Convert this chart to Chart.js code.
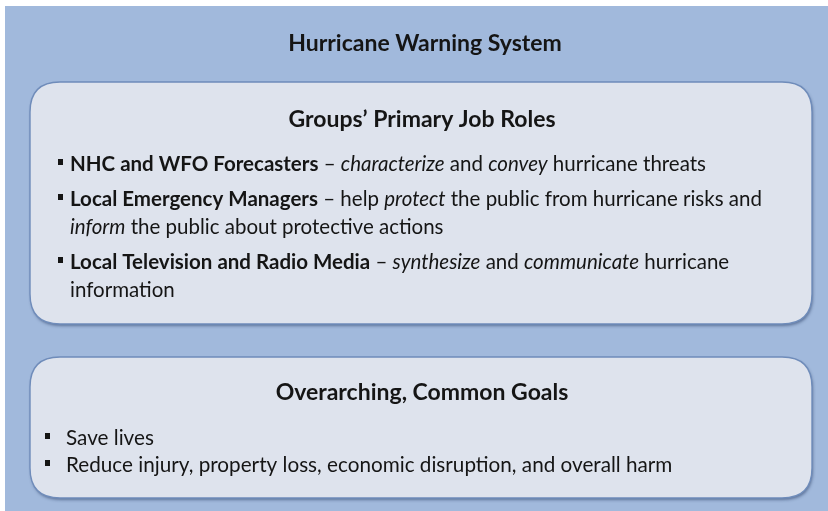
<!DOCTYPE html>
<html>
<head>
<meta charset="utf-8">
<script src="https://cdn.jsdelivr.net/npm/chart.js@4.4.1/dist/chart.umd.min.js"></script>
<style>
  html, body { margin: 0; padding: 0; background: #fff; }
  #wrap { width: 828px; height: 511px; }
</style>
</head>
<body>
<div id="wrap"><canvas id="diagram"></canvas></div>
<script>
const mainTitle = 'Hurricane Warning System';
const boxTitles = ['Groups\u2019 Primary Job Roles', 'Overarching, Common Goals'];

// each line is a list of [text, style] parts; b = bold, i = italic, n = normal
const roleLines = [
  { bullet: true, parts: [['NHC and WFO Forecasters', 'b'], [' \u2013 ', 'n'], ['characterize', 'i'], [' and ', 'n'], ['convey', 'i'], [' hurricane threats', 'n']] },
  { bullet: true, parts: [['Local Emergency Managers', 'b'], [' \u2013 help ', 'n'], ['protect', 'i'], [' the public from hurricane risks and', 'n']] },
  { bullet: false, parts: [['inform', 'i'], [' the public about protective actions', 'n']] },
  { bullet: true, parts: [['Local Television and Radio Media', 'b'], [' \u2013 ', 'n'], ['synthesize', 'i'], [' and ', 'n'], ['communicate', 'i'], [' hurricane', 'n']] },
  { bullet: false, parts: [['information', 'n']] }
];
const goalLines = [
  { bullet: true, parts: [['Save lives', 'n']] },
  { bullet: true, parts: [['Reduce injury, property loss, economic disruption, and overall harm', 'n']] }
];

const FONT = 'Lato, "Open Sans", sans-serif';
const colors = {
  back: '#a1b9dc',
  box: '#dee3ed',
  border: '#6f8cba',
  text: '#151515'
};

// layout of the panels (px in the 828x511 canvas)
const panels = [
  { x: 30, y: 82, w: 782, h: 242, r: 30, titleY: 120, lines: roleLines, lineY: [171, 206, 234, 269, 297], textX: 70, bulletX: 58, size: 20.5 },
  { x: 30, y: 357, w: 782, h: 141, r: 30, titleY: 393, lines: goalLines, lineY: [445, 472], textX: 66, bulletX: 45, size: 20.7 }
];

function roundRect(ctx, x, y, w, h, r) {
  ctx.beginPath();
  ctx.moveTo(x + r, y);
  ctx.lineTo(x + w - r, y);
  ctx.quadraticCurveTo(x + w, y, x + w, y + r);
  ctx.lineTo(x + w, y + h - r);
  ctx.quadraticCurveTo(x + w, y + h, x + w - r, y + h);
  ctx.lineTo(x + r, y + h);
  ctx.quadraticCurveTo(x, y + h, x, y + h - r);
  ctx.lineTo(x, y + r);
  ctx.quadraticCurveTo(x, y, x + r, y);
  ctx.closePath();
}

function fontFor(style, size) {
  if (style === 'b') return 'bold ' + size + 'px ' + FONT;
  if (style === 'i') return 'italic ' + size + 'px ' + FONT;
  return size + 'px ' + FONT;
}

const diagramPlugin = {
  id: 'diagram',
  beforeDraw(chart) {
    const ctx = chart.ctx;
    ctx.save();
    ctx.fillStyle = '#fff';
    ctx.fillRect(0, 0, chart.width, chart.height);
    ctx.fillStyle = colors.back;
    ctx.fillRect(5, 6, chart.width - 5, chart.height - 6);
    panels.forEach(p => {
      ctx.save();
      ctx.shadowColor = 'rgba(30,50,90,0.5)';
      ctx.shadowBlur = 3;
      ctx.shadowOffsetX = 1;
      ctx.shadowOffsetY = 2;
      roundRect(ctx, p.x, p.y, p.w, p.h, p.r);
      ctx.fillStyle = colors.box;
      ctx.fill();
      ctx.restore();
      roundRect(ctx, p.x, p.y, p.w, p.h, p.r);
      ctx.lineWidth = 1.4;
      ctx.strokeStyle = colors.border;
      ctx.stroke();
    });
    ctx.restore();
  },
  afterDraw(chart) {
    const ctx = chart.ctx;
    ctx.save();
    ctx.fillStyle = colors.text;
    panels.forEach((p, i) => {
      ctx.textBaseline = 'middle';
      ctx.font = 'bold 23px ' + FONT;
      ctx.textAlign = 'center';
      ctx.fillText(boxTitles[i], p.x + p.w / 2 + 1, p.titleY);
      ctx.textAlign = 'left';
      ctx.textBaseline = 'alphabetic';
      p.lines.forEach((line, k) => {
        const y = p.lineY[k];
        if (line.bullet) ctx.fillRect(p.bulletX, y - 12, 5, 6);
        let x = p.textX;
        line.parts.forEach(([txt, st]) => {
          ctx.font = fontFor(st, p.size);
          ctx.fillText(txt, x, y);
          x += ctx.measureText(txt).width;
        });
      });
    });
    ctx.restore();
  }
};

new Chart(document.getElementById('diagram'), {
  type: 'scatter',
  data: { datasets: [] },
  options: {
    responsive: true,
    maintainAspectRatio: false,
    animation: false,
    layout: { padding: { left: 22, right: 0, top: 0, bottom: 0 } },
    scales: { x: { display: false }, y: { display: false } },
    plugins: {
      legend: { display: false },
      tooltip: { enabled: false },
      title: {
        display: true,
        text: mainTitle,
        color: colors.text,
        font: { family: FONT, size: 23, weight: 'bold' },
        padding: { top: 30, bottom: 0 }
      }
    }
  },
  plugins: [diagramPlugin]
});
</script>
</body>
</html>
